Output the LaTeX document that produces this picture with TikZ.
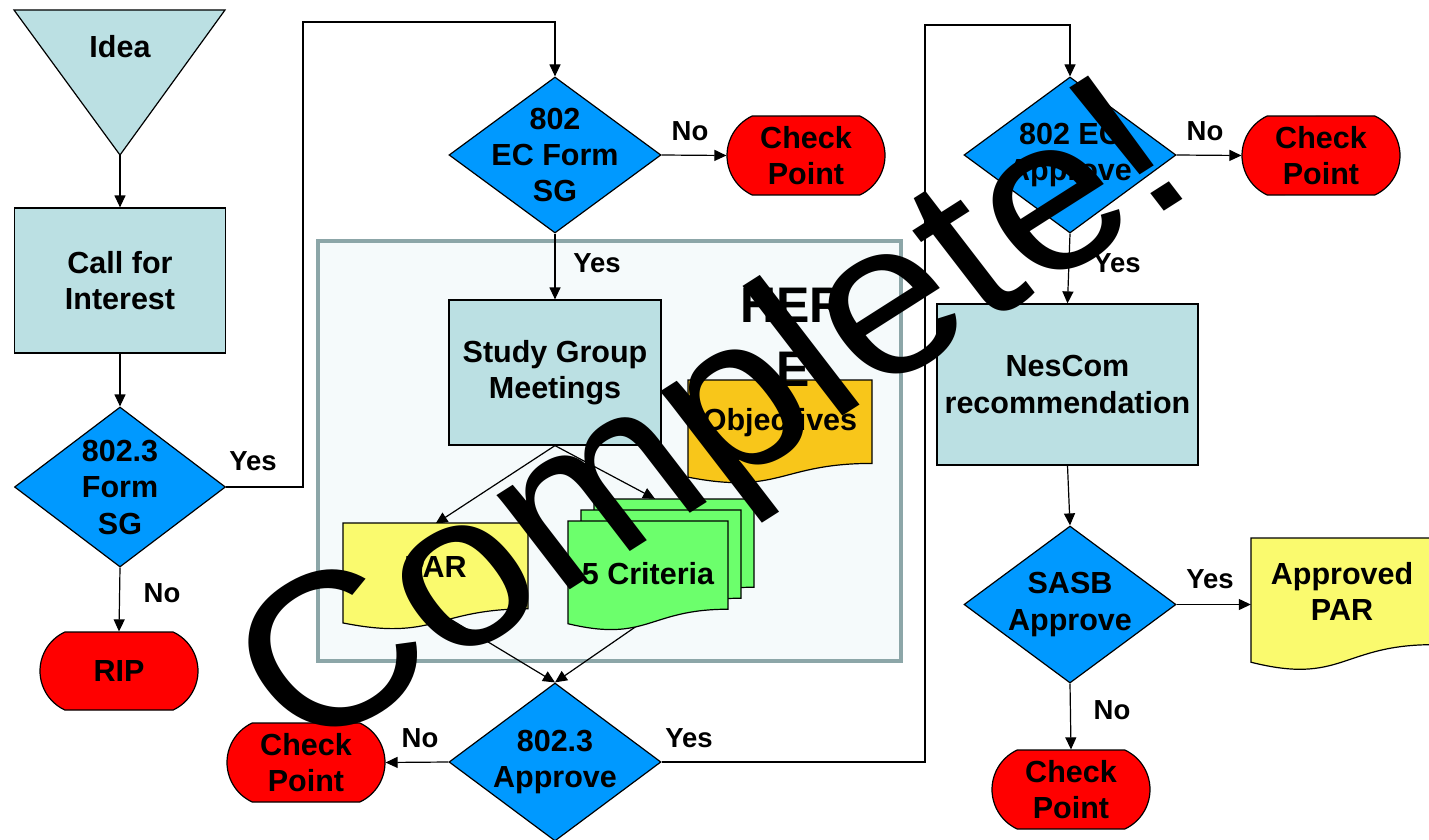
\documentclass[tikz,border=0pt]{standalone}
\usepackage{fontspec}
\setmainfont{Liberation Sans}
\usetikzlibrary{shapes.geometric,shapes.misc,arrows.meta}

\definecolor{procblue}{HTML}{BBE0E3}
\definecolor{decblue}{HTML}{0099FF}
\definecolor{stopred}{HTML}{FF0000}
\definecolor{paryellow}{HTML}{FAFA6E}
\definecolor{critgreen}{HTML}{6CFF6C}
\definecolor{objorange}{HTML}{F8C61A}
\definecolor{sgfill}{HTML}{F5FAFB}
\definecolor{sgborder}{HTML}{8CA6A8}

\pgfdeclarelayer{back}
\pgfdeclarelayer{wires}
\pgfsetlayers{back,wires,main}

\newcommand\boxfont{\fontsize{30.5}{36.5}\selectfont\bfseries}

% document shape: x, y (top left), width, height, colour
\newcommand\docshape[5]{%
  \filldraw[line width=1.2pt, fill=#5, shift={(#1,#2)}]
    (0,0) -- (#3,0) -- (#3,{0.802*#4})
    .. controls ({0.5*#3},{0.802*#4}) and ({0.5*#3},{1.107*#4}) .. (0,{0.934*#4}) -- cycle;}

\begin{document}
\begin{tikzpicture}[x=1pt, y=-1pt,
    box/.style={draw, line width=1.2pt, font=\boxfont, align=center, inner sep=0pt},
    process/.style={box, rectangle, fill=procblue},
    decision/.style={box, diamond, fill=decblue, minimum width=212pt, minimum height=157pt},
    dtext/.style={font=\boxfont, align=center, inner sep=0pt},
    checkpt/.style={box, rounded rectangle, rounded rectangle arc length=130,
        fill=stopred, minimum width=158pt, minimum height=79pt},
    docnode/.style={font=\boxfont, align=center, inner sep=0pt},
    lbl/.style={font=\fontsize{27.5}{30}\selectfont\bfseries, inner sep=0pt},
    flow/.style={line width=1.2pt, -{Triangle[length=12pt,width=11pt]}},
    wire/.style={line width=1.2pt}]

    \useasboundingbox (0,0) rectangle (1429,840);

    % page and study group area
    \begin{pgfonlayer}{back}
    \fill[white] (0,0) rectangle (1429,840);
    \filldraw[fill=sgfill, draw=sgborder, line width=4pt] (318,241) rectangle (901,661);
    \end{pgfonlayer}

    % left column
    \filldraw[line width=1.2pt, fill=procblue] (14,10) -- (225,10) -- (120,155) -- cycle;
    \coordinate (ideatip) at (120,155);
    \node[dtext] (idea) at (120,47) {Idea};
    \node[process, minimum width=211pt, minimum height=145pt] (cfi) at (120,280.5) {Call for\\Interest};
    \node[decision, minimum width=211pt, minimum height=160pt,
        label={[dtext]center:{802.3\\Form\\SG}}] (form3) at (120,487) {};
    \node[checkpt, minimum height=78pt] (rip) at (119,671) {RIP};

    % middle column
    \node[decision, minimum height=156pt,
        label={[dtext]center:{802\\EC Form\\SG}}] (ecform) at (555,155) {};
    \node[checkpt] (cpA) at (806,155.5) {Check\\Point};
    \node[process, minimum width=212pt, minimum height=145pt] (sg) at (555,372.5) {Study Group\\Meetings};

    \docshape{688}{380}{184}{104}{objorange}
    \node[docnode, minimum width=184pt, minimum height=83pt] (obj) at (780,422.5) {Objectives};
    \node[font=\fontsize{50}{64}\selectfont\bfseries, align=center, inner sep=0pt] (here) at (793,337) {HER\\E};

    \docshape{343}{523}{185}{107}{paryellow}
    \node[docnode, minimum width=185pt, minimum height=86pt] (par) at (435.5,567) {PAR};
    \docshape{594}{499}{160}{110}{critgreen}
    \docshape{581}{510}{160}{110}{critgreen}
    \docshape{568}{521}{160}{110}{critgreen}
    \node[docnode, minimum width=160pt, minimum height=88pt] (crit) at (648,574) {5 Criteria};

    \node[decision, minimum height=158pt,
        label={[dtext]center:{802.3\\Approve}}] (app3) at (555,762) {};
    \node[checkpt] (cpB) at (306,762.5) {Check\\Point};

    % right column
    \node[decision, minimum height=156pt,
        label={[dtext]center:{802 EC\\Approve}}] (ecapp) at (1070,155) {};
    \node[checkpt] (cpC) at (1321,155.5) {Check\\Point};
    \node[process, minimum width=261pt, minimum height=161pt] (nescom) at (1067.5,384.5) {NesCom\\recommendation};
    \node[decision, minimum height=157pt,
        label={[dtext]center:{SASB\\Approve}}] (sasb) at (1070,604.5) {};
    \docshape{1251}{538}{182}{133}{paryellow}
    \node[docnode, minimum width=182pt, minimum height=106pt] (apar) at (1342,591.2) {Approved\\PAR};
    \node[checkpt] (cpD) at (1071,789.5) {Check\\Point};

    % bends
    \coordinate (jogA) at (303,22);
    \coordinate (jogB) at (925,25);

    % connectors
    \begin{pgfonlayer}{wires}
    \draw[flow] (ideatip) -- (cfi.north);
    \draw[flow] (cfi.south) -- (form3.north);
    \draw[flow] (form3.south) -- (rip.north);
    \draw[flow] (form3.east) -| (jogA) -| (ecform.north);
    \draw[flow] (ecform.east) -- (cpA.west);
    \draw[flow] (ecform.south) -- (sg.north);
    \draw[flow] (sg.south) -- (par.north);
    \draw[flow] (sg.south) -- ([xshift=7pt,yshift=31pt]crit.north);
    \draw[flow] (par.south) -- (app3.north);
    \draw[flow] (crit.south) -- (app3.north);
    \draw[flow] (app3.west) -- (cpB.east);
    \draw[flow] (app3.east) -| (jogB) -| (ecapp.north);
    \draw[flow] (ecapp.east) -- (cpC.west);
    \draw[flow] (ecapp.south) -- (nescom.north);
    \draw[flow] (nescom.south) -- (sasb.north);
    \draw[flow] (sasb.east) -- (apar.west |- sasb.east);
    \draw[flow] (sasb.south) -- (cpD.north);
    \end{pgfonlayer}

    % labels
    \node[lbl] (yesA) at (253,461) {Yes};
    \node[lbl] (noA) at (162,593) {No};
    \node[lbl] (noB) at (690,131) {No};
    \node[lbl] (yesB) at (597,263) {Yes};
    \node[lbl] (noC) at (420,738) {No};
    \node[lbl] (yesC) at (689,738) {Yes};
    \node[lbl] (noD) at (1205,131) {No};
    \node[lbl] (yesD) at (1117,263) {Yes};
    \node[lbl] (yesE) at (1210,579) {Yes};
    \node[lbl] (noE) at (1112,710) {No};

    % stamp
    \begin{scope}[shift={(718,427)}, yscale=0.91]
    \node[font=\fontsize{240}{240}\selectfont, inner sep=0pt, rotate=35, transform shape] (stamp) at (0,0) {Complete!};
    \end{scope}
\end{tikzpicture}
\end{document}
